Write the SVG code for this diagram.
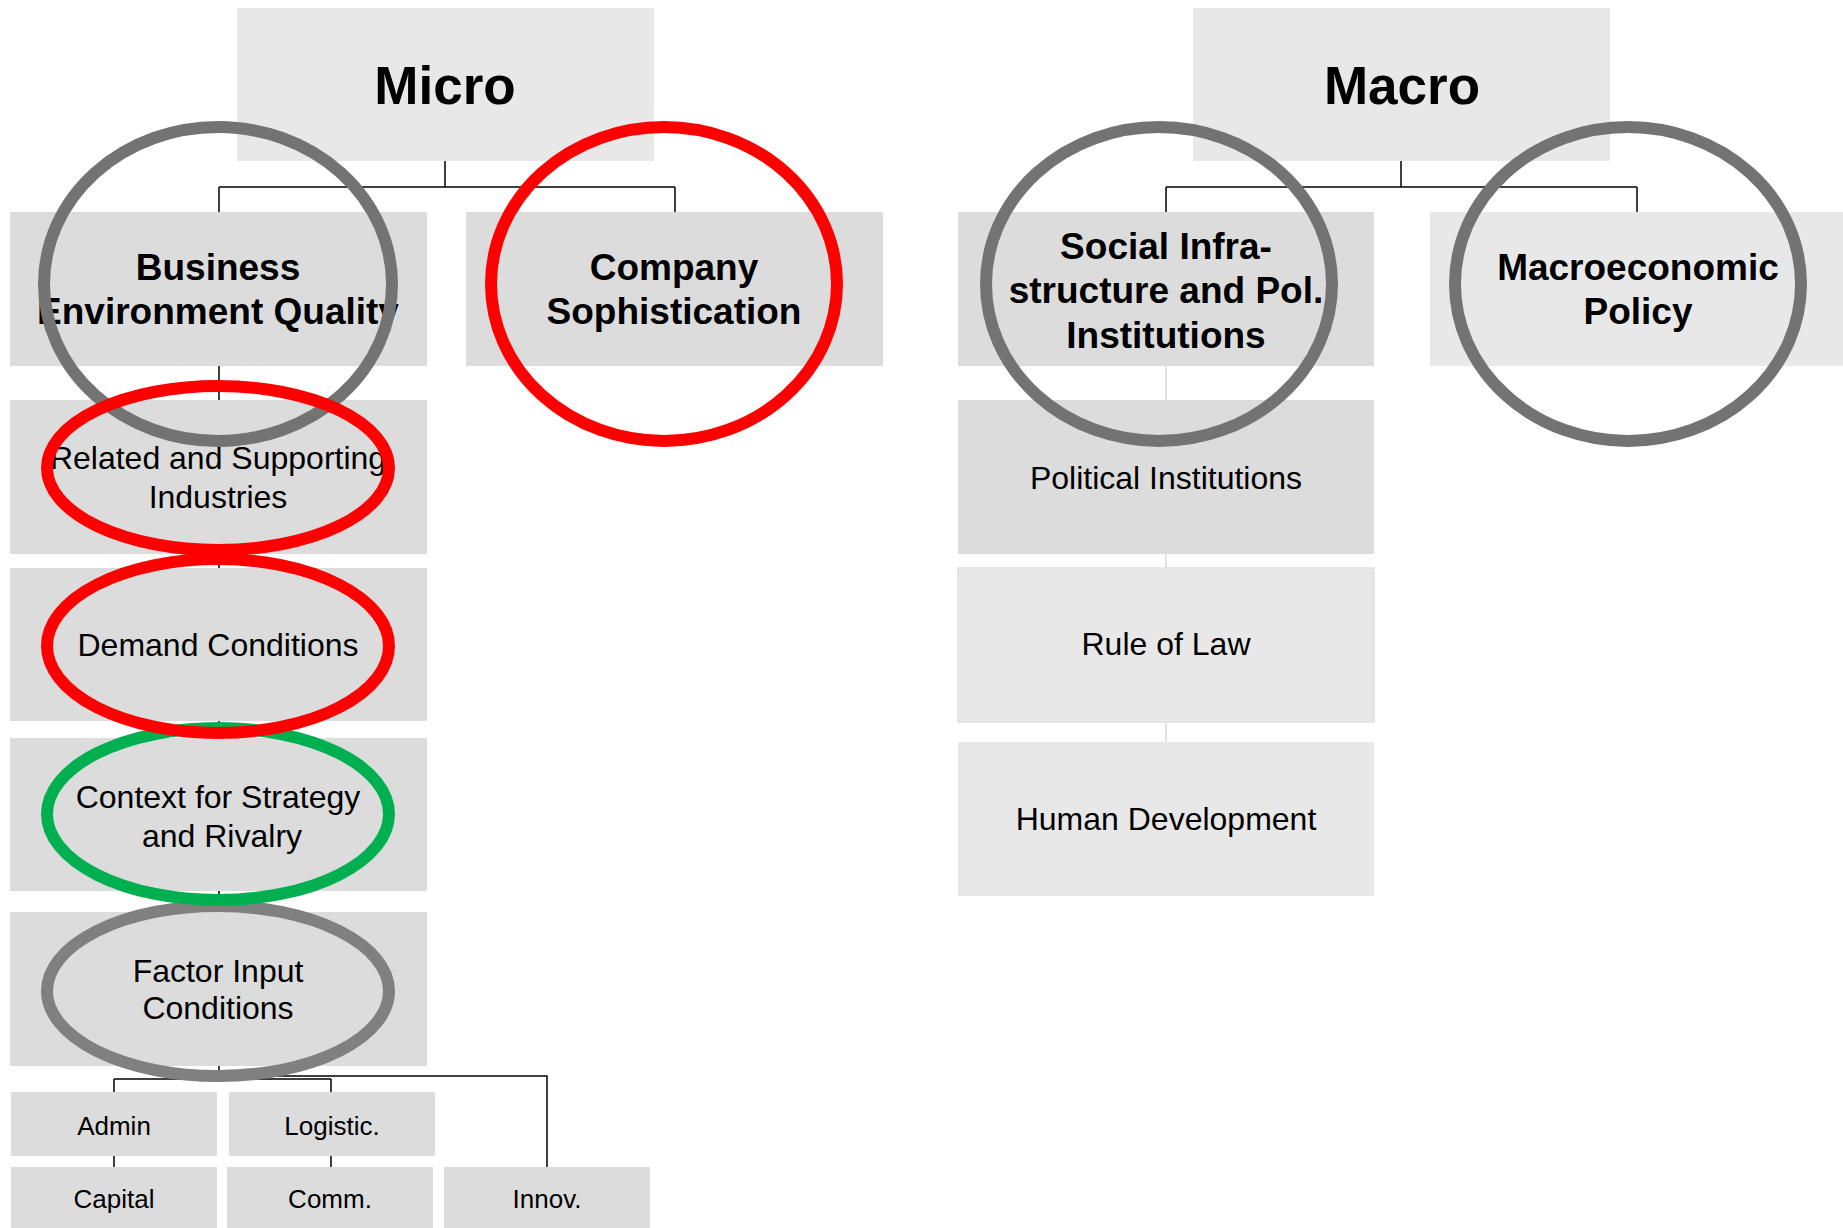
<svg xmlns="http://www.w3.org/2000/svg" width="1843" height="1228" viewBox="0 0 1843 1228">
  <style>
    .lt { fill: #E8E8E8; }
    .dk { fill: #DCDCDC; }
    .t { font-family: "Liberation Sans", Arial, sans-serif; fill: #000; text-anchor: middle; }
    .h1 { font-size: 53px; font-weight: bold; }
    .h2 { font-size: 37px; font-weight: bold; }
    .h3 { font-size: 32px; }
    .h4 { font-size: 26px; }
    .ln { stroke: #000; stroke-width: 1.5; fill: none; }
    .lg { stroke: #D9D9D9; stroke-width: 1.5; fill: none; }
    .ring { fill: none; stroke-width: 12; }
  </style>

  <!-- connectors -->
  <g id="connectors">
    <path class="ln" d="M445 161V187M219 187H675M219 187V212M675 187V212"/>
    <path class="ln" d="M1401 161V187M1166 187H1637M1166 187V212M1637 187V212"/>
    <path class="ln" d="M219 366V400M219 554V568M219 721V738M219 891V912M219 1066V1076"/>
    <path class="ln" d="M219 1076H547V1167M114 1079H331M114 1079V1092M331 1079V1092"/>
    <path class="ln" d="M114 1156V1167M331 1156V1167"/>
    <path class="lg" d="M1166 366V400M1166 554V568M1166 723V742"/>
  </g>

  <!-- Micro branch -->
  <g id="micro"><rect class="lt" x="237" y="8" width="417" height="153"/><text class="t h1" x="445" y="104">Micro</text></g>
  <g id="business"><rect class="dk" x="10" y="212" width="417" height="154"/>
    <text class="t h2" x="218" y="280">Business</text><text class="t h2" x="218" y="324">Environment Quality</text></g>
  <g id="company"><rect class="dk" x="466" y="212" width="417" height="154"/>
    <text class="t h2" x="674" y="280">Company</text><text class="t h2" x="674" y="324">Sophistication</text></g>
  <g id="related"><rect class="dk" x="10" y="400" width="417" height="154"/>
    <text class="t h3" x="218" y="469">Related and Supporting</text><text class="t h3" x="218" y="508">Industries</text></g>
  <g id="demand"><rect class="dk" x="10" y="568" width="417" height="153"/>
    <text class="t h3" x="218" y="656">Demand Conditions</text></g>
  <g id="context"><rect class="dk" x="10" y="738" width="417" height="153"/>
    <text class="t h3" x="218" y="808">Context for Strategy</text><text class="t h3" x="222" y="847">and Rivalry</text></g>
  <g id="factor"><rect class="dk" x="10" y="912" width="417" height="154"/>
    <text class="t h3" x="218" y="982">Factor Input</text><text class="t h3" x="218" y="1019">Conditions</text></g>
  <g id="admin"><rect class="dk" x="11" y="1092" width="206" height="64"/><text class="t h4" x="114" y="1135">Admin</text></g>
  <g id="logistic"><rect class="dk" x="229" y="1092" width="206" height="64"/><text class="t h4" x="332" y="1135">Logistic.</text></g>
  <g id="capital"><rect class="dk" x="11" y="1167" width="206" height="61"/><text class="t h4" x="114" y="1208">Capital</text></g>
  <g id="comm"><rect class="dk" x="227" y="1167" width="206" height="61"/><text class="t h4" x="330" y="1208">Comm.</text></g>
  <g id="innov"><rect class="dk" x="444" y="1167" width="206" height="61"/><text class="t h4" x="547" y="1208">Innov.</text></g>

  <!-- Macro branch -->
  <g id="macro"><rect class="lt" x="1193" y="8" width="417" height="153"/><text class="t h1" x="1402" y="104">Macro</text></g>
  <g id="social"><rect class="dk" x="958" y="212" width="416" height="154"/>
    <text class="t h2" x="1166" y="259">Social Infra-</text><text class="t h2" x="1166" y="303">structure and Pol.</text><text class="t h2" x="1166" y="348">Institutions</text></g>
  <g id="macroeconomic"><rect class="lt" x="1430" y="212" width="415" height="154"/>
    <text class="t h2" x="1638" y="280">Macroeconomic</text><text class="t h2" x="1638" y="324">Policy</text></g>
  <g id="political"><rect class="dk" x="958" y="400" width="416" height="154"/><text class="t h3" x="1166" y="489">Political Institutions</text></g>
  <g id="rule"><rect class="lt" x="958" y="568" width="416" height="154" stroke="#E0E0E0" stroke-width="1.5"/><text class="t h3" x="1166" y="655">Rule of Law</text></g>
  <g id="human"><rect class="lt" x="958" y="742" width="416" height="154"/><text class="t h3" x="1166" y="830">Human Development</text></g>

  <!-- highlight rings drawn over the chart -->
  <g id="rings">
    <ellipse class="ring" cx="218" cy="284" rx="174" ry="157" stroke="#737373"/>
    <ellipse class="ring" cx="1159" cy="284" rx="173" ry="157" stroke="#737373"/>
    <ellipse class="ring" cx="1628" cy="284" rx="173" ry="157" stroke="#737373"/>
    <ellipse class="ring" cx="664" cy="284" rx="173" ry="157" stroke="#FF0000"/>
    <ellipse class="ring" cx="218" cy="991" rx="171" ry="85" stroke="#808080"/>
    <ellipse class="ring" cx="218" cy="814" rx="171" ry="86" stroke="#00B050"/>
    <ellipse class="ring" cx="218" cy="468" rx="171" ry="82" stroke="#FF0000"/>
    <ellipse class="ring" cx="218" cy="646" rx="171" ry="87" stroke="#FF0000"/>
  </g>
</svg>
